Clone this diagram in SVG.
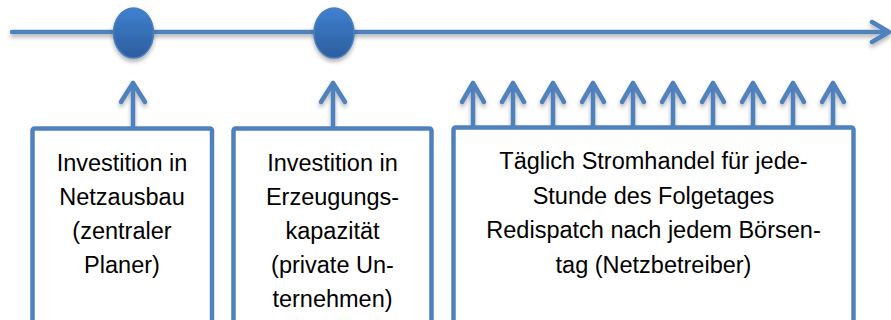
<svg xmlns="http://www.w3.org/2000/svg" width="891" height="320" viewBox="0 0 891 320">
<style>
.ln{fill:none;stroke:#4f81bd;stroke-width:4.5;stroke-linecap:round;stroke-linejoin:round}
.box{fill:#ffffff;stroke:#4f81bd;stroke-width:4.5;stroke-linejoin:round}
.t{font-family:"Liberation Sans",Arial,sans-serif;font-size:23.5px;fill:#000000;text-anchor:middle}
.dot{fill:url(#g);stroke:#4a7ebb;stroke-width:1.5}
</style>
<defs>
<linearGradient id="g" x1="0" y1="0" x2="0" y2="1">
<stop offset="0" stop-color="#3f80d0"/>
<stop offset="1" stop-color="#2c5d9d"/>
</linearGradient>
<filter id="sh" x="-10%" y="-30%" width="120%" height="180%">
<feDropShadow dx="0" dy="3" stdDeviation="2" flood-color="#000000" flood-opacity="0.3"/>
</filter>
</defs>
<g id="connectors" filter="url(#sh)">
<path class="ln" d="M12 32 H888 M872 22 L889 32 L872 42"/>
<path class="ln" d="M133 128 V83 M121 102 L133 83 L145 102"/>
<path class="ln" d="M333 128 V83 M321 102 L333 83 L345 102"/>
<path class="ln" d="M473 128 V83 M462 102 L473 83 L484 102"/>
<path class="ln" d="M513 128 V83 M502 102 L513 83 L524 102"/>
<path class="ln" d="M553 128 V83 M542 102 L553 83 L564 102"/>
<path class="ln" d="M593 128 V83 M582 102 L593 83 L604 102"/>
<path class="ln" d="M633 128 V83 M622 102 L633 83 L644 102"/>
<path class="ln" d="M673 128 V83 M662 102 L673 83 L684 102"/>
<path class="ln" d="M713 128 V83 M702 102 L713 83 L724 102"/>
<path class="ln" d="M753 128 V83 M742 102 L753 83 L764 102"/>
<path class="ln" d="M793 128 V83 M782 102 L793 83 L804 102"/>
<path class="ln" d="M833 128 V83 M822 102 L833 83 L844 102"/>
</g>
<g id="milestone1" filter="url(#sh)"><ellipse class="dot" cx="133.5" cy="33" rx="20" ry="25"/></g>
<g id="milestone2" filter="url(#sh)"><ellipse class="dot" cx="334" cy="33" rx="20" ry="25"/></g>
<g id="box1">
<rect class="box" x="32.5" y="128.5" width="179.5" height="200" rx="2"/>
<text class="t" x="122" y="171">Investition in</text>
<text class="t" x="122" y="205">Netzausbau</text>
<text class="t" x="122" y="239">(zentraler</text>
<text class="t" x="122" y="273">Planer)</text>
</g>
<g id="box2">
<rect class="box" x="233.5" y="128.5" width="198" height="200" rx="2"/>
<text class="t" x="332.5" y="171">Investition in</text>
<text class="t" x="332.5" y="205">Erzeugungs-</text>
<text class="t" x="332.5" y="239">kapazität</text>
<text class="t" x="332.5" y="273">(private Un-</text>
<text class="t" x="332.5" y="307">ternehmen)</text>
</g>
<g id="box3">
<rect class="box" x="453.5" y="127.5" width="400" height="200" rx="2"/>
<text class="t" x="653.5" y="169">Täglich Stromhandel für jede-</text>
<text class="t" x="653.5" y="203.5">Stunde des Folgetages</text>
<text class="t" x="653.5" y="238">Redispatch nach jedem Börsen-</text>
<text class="t" x="653.5" y="272.5">tag (Netzbetreiber)</text>
</g>
</svg>
